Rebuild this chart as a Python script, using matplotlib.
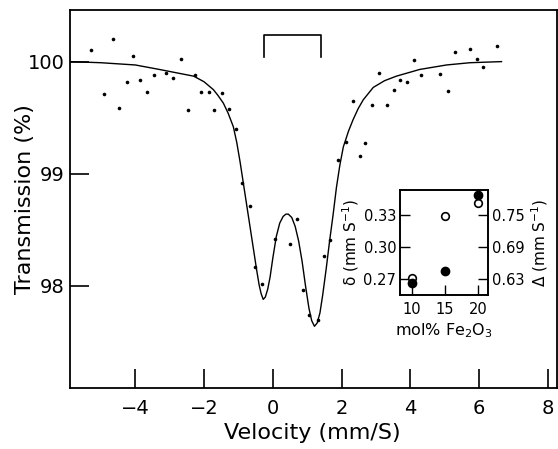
import matplotlib
matplotlib.use("Agg")
import matplotlib.pyplot as plt

# --- Mossbauer spectrum: measured points ---
vel_pts = [-5.29, -4.90, -4.66, -4.47, -4.25, -4.06, -3.85, -3.65, -3.47, -3.11,
           -2.89, -2.67, -2.47, -2.27, -2.08, -1.87, -1.72, -1.49, -1.27, -1.08,
           -0.90, -0.67, -0.51, -0.31, 0.06, 0.49, 0.71, 0.89, 1.06, 1.30,
           1.48, 1.66, 1.89, 2.14, 2.33, 2.53, 2.69, 2.87, 3.09, 3.32,
           3.51, 3.69, 3.90, 4.11, 4.30, 4.86, 5.08, 5.31, 5.74, 5.95,
           6.10, 6.51]
trans_pts = [100.10, 99.71, 100.20, 99.59, 99.82, 100.05, 99.84, 99.73, 99.88, 99.90,
             99.85, 100.02, 99.57, 99.88, 99.73, 99.73, 99.57, 99.72, 99.58, 99.40,
             98.92, 98.71, 98.17, 98.02, 98.42, 98.375, 98.60, 97.96, 97.74, 97.70,
             98.27, 98.41, 99.12, 99.28, 99.65, 99.155, 99.27, 99.61, 99.90, 99.61,
             99.75, 99.84, 99.82, 100.01, 99.88, 99.89, 99.74, 100.09, 100.11, 100.02,
             99.95, 100.14]

# --- fitted doublet ---
vel_fit = [-5.9, -5.0, -4.0, -3.3, -2.8, -2.3, -2.0, -1.73, -1.6, -1.44,
           -1.3, -1.15, -1.05, -0.95, -0.85, -0.75, -0.65, -0.55, -0.47, -0.40,
           -0.34, -0.28, -0.22, -0.15, -0.08, 0.0, 0.1, 0.2, 0.3, 0.38,
           0.45, 0.55, 0.65, 0.75, 0.85, 0.95, 1.05, 1.13, 1.21, 1.29,
           1.37, 1.45, 1.55, 1.65, 1.75, 1.85, 1.95, 2.05, 2.2, 2.33,
           2.48, 2.63, 2.92, 3.25, 3.59, 4.27, 5.05, 5.73, 6.65]
trans_fit = [100.0, 99.99, 99.97, 99.93, 99.90, 99.87, 99.82, 99.75, 99.70, 99.63,
             99.54, 99.42, 99.28, 99.10, 98.90, 98.70, 98.50, 98.30, 98.14, 98.01,
             97.93, 97.88, 97.90, 97.97, 98.08, 98.25, 98.44, 98.56, 98.62, 98.64,
             98.64, 98.61, 98.53, 98.40, 98.22, 98.00, 97.80, 97.69, 97.64, 97.67,
             97.76, 97.92, 98.15, 98.40, 98.63, 98.88, 99.08, 99.24, 99.38, 99.48,
             99.58, 99.66, 99.77, 99.83, 99.87, 99.93, 99.97, 99.99, 100.0]

# doublet bracket (line positions)
bracket_x = [-0.26, -0.26, 1.40, 1.40]
bracket_y = [100.045, 100.237, 100.237, 100.045]

# --- inset: hyperfine parameters vs composition ---
mol_fe2o3 = [10, 15, 20]
delta_is = [0.271, 0.329, 0.341]      # open circles, left axis
delta_qs = [0.623, 0.645, 0.787]      # filled circles, right axis

fig = plt.figure(figsize=(5.58, 4.49), dpi=100)
ax = fig.add_axes([0.1254, 0.1359, 0.8726, 0.8418])

ax.plot(vel_fit, trans_fit, color="black", lw=1.0)
ax.plot(vel_pts, trans_pts, "o", color="black", ms=2.6, mew=0)
ax.plot(bracket_x, bracket_y, color="black", lw=1.2)

ax.set_xlim(-5.9, 8.26)
ax.set_ylim(97.09, 100.46)
ax.set_xticks([-4, -2, 0, 2, 4, 6, 8])
ax.set_yticks([98, 99, 100])
ax.tick_params(direction="in", length=14, width=1.2, labelsize=14, pad=4)
ax.tick_params(axis="x", pad=8)
for s in ax.spines.values():
    s.set_linewidth(1.3)
ax.set_xlabel("Velocity (mm/S)", fontsize=16)
ax.set_ylabel("Transmission (%)", fontsize=16)
ax.xaxis.set_label_coords(0.497, -0.093)
ax.yaxis.set_label_coords(-0.072, 0.5)

# inset
axi = fig.add_axes([0.7177, 0.343, 0.1573, 0.2338])
axi.plot(mol_fe2o3, delta_is, "o", mfc="white", mec="black", mew=1.2, ms=5.5)
axi.set_xlim(8.3, 21.5)
axi.set_ylim(0.2556, 0.353)
axi.set_xticks([10, 15, 20])
axi.set_yticks([0.27, 0.30, 0.33])
axi.set_yticklabels(["0.27", "0.30", "0.33"])
axi.tick_params(direction="in", length=7, width=1.0, labelsize=10.5, pad=3)
axi.tick_params(axis="x", pad=5)
axi.set_xlabel("mol% Fe$_2$O$_3$", fontsize=11.5, labelpad=3)
axi.set_ylabel("δ (mm S$^{-1}$)", fontsize=11, labelpad=2)

axr = axi.twinx()
axr.plot(mol_fe2o3, delta_qs, "o", color="black", ms=6)
axr.set_ylim(0.601, 0.796)
axr.set_yticks([0.63, 0.69, 0.75])
axr.set_yticklabels(["0.63", "0.69", "0.75"])
axr.tick_params(direction="in", length=7, width=1.0, labelsize=10.5, pad=3)
axr.set_ylabel("Δ (mm S$^{-1}$)", fontsize=11, labelpad=3)
for a in (axi, axr):
    for s in a.spines.values():
        s.set_linewidth(1.2)

fig.savefig("out.png", dpi=100)
